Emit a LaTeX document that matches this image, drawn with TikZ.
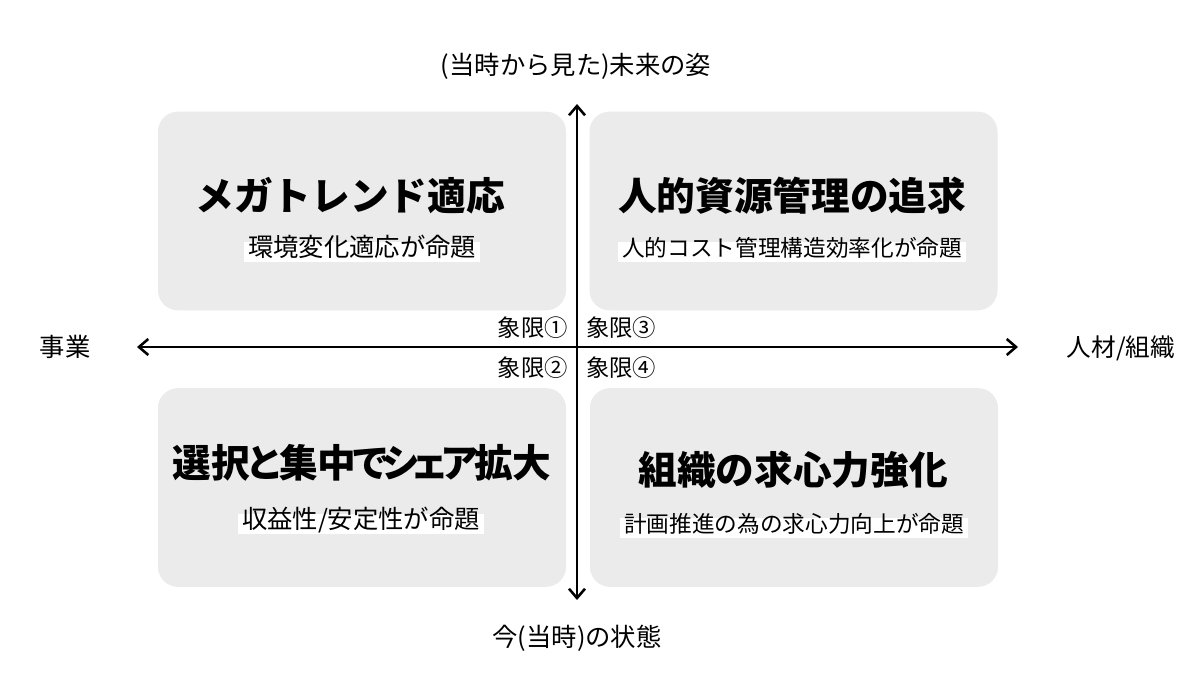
\documentclass[tikz,border=0pt]{standalone}
\usepackage{fontspec}
\setmainfont{Noto Sans CJK JP}
\usetikzlibrary{arrows.meta}
\definecolor{boxgray}{RGB}{235,235,235}
\newcommand{\kk}[1]{\kern-#1em}
\begin{document}
\begin{tikzpicture}[x=0.75pt,y=-0.75pt,
  quad/.style={fill=boxgray,draw=none,rounded corners=15pt,minimum width=306pt,minimum height=149pt,inner sep=0pt},
  title/.style={inner sep=0pt,text height=0.86em,text depth=0.14em,font=\fontsize{29}{29}\selectfont\bfseries},
  sub/.style={fill=white,inner xsep=3pt,inner ysep=2.6pt,text height=0.86em,text depth=0.14em},
  subbig/.style={sub,font=\fontsize{19}{19}\selectfont},
  subsmall/.style={sub,font=\fontsize{17}{17}\selectfont},
  axlabel/.style={inner sep=0pt,text height=0.86em,text depth=0.14em,font=\fontsize{19}{19}\selectfont},
  qlabel/.style={inner sep=0pt,text height=0.86em,text depth=0.14em,font=\fontsize{17.5}{17.5}\selectfont},
  axis/.style={line width=1.9pt,{Straight Barb[length=7pt,width=12pt]}-{Straight Barb[length=7pt,width=12pt]}}
]
\useasboundingbox (0,0) rectangle (1200,697);
\fill[white] (0,0) rectangle (1200,697);
% boxes
\node[quad] (tl) at (362,211) {};
\node[quad] (tr) at (793.5,211) {};
\node[quad] (bl) at (362,487.5) {};
\node[quad] (br) at (794,487.5) {};
% titles
\node[title] (tlt) at (350,206) {メガトレンド適応};
\node[subbig] (tls) at (362,252) {環境変化適応が命題};
\node[title] (trt) at (792,206) {人的資源管理の追求};
\node[subsmall] (trs) at (792,252) {人的コスト管理構造効率化が命題};
\node[title] (blt) at (362,473) {選択\kk{0.12}と\kk{0.12}集中\kk{0.12}で\kk{0.24}シ\kk{0.24}ェ\kk{0.24}ア\kk{0.12}拡大};
\node[subbig] (bls) at (361,524) {収益性/安定性が命題};
\node[title] (brt) at (793,480) {組織の求心力強化};
\node[subsmall] (brs) at (794,528) {計画推進の為の求心力向上が命題};
% axes
\coordinate (axL) at (137,347);
\coordinate (axR) at (1018,347);
\coordinate (axT) at (577,104);
\coordinate (axB) at (577,600);
\draw[axis] (axL) -- (axR);
\draw[axis] (axB) -- (axT);
% axis labels
\node[axlabel] (top) at (576,70) {(当時から見た)未来の姿};
\node[axlabel] (bot) at (577,642) {今(当時)の状態};
\node[axlabel] (left) at (65,352) {事業};
\node[axlabel,font=\fontsize{18.5}{18.5}\selectfont] (right) at (1121,352) {人材/組織};
% quadrant labels
\node[qlabel,anchor=east] (q1) at (568,332) {象限①};
\node[qlabel,anchor=east] (q2) at (568,372) {象限②};
\node[qlabel,anchor=west] (q3) at (586,332) {象限③};
\node[qlabel,anchor=west] (q4) at (586,372) {象限④};
\end{tikzpicture}
\end{document}
